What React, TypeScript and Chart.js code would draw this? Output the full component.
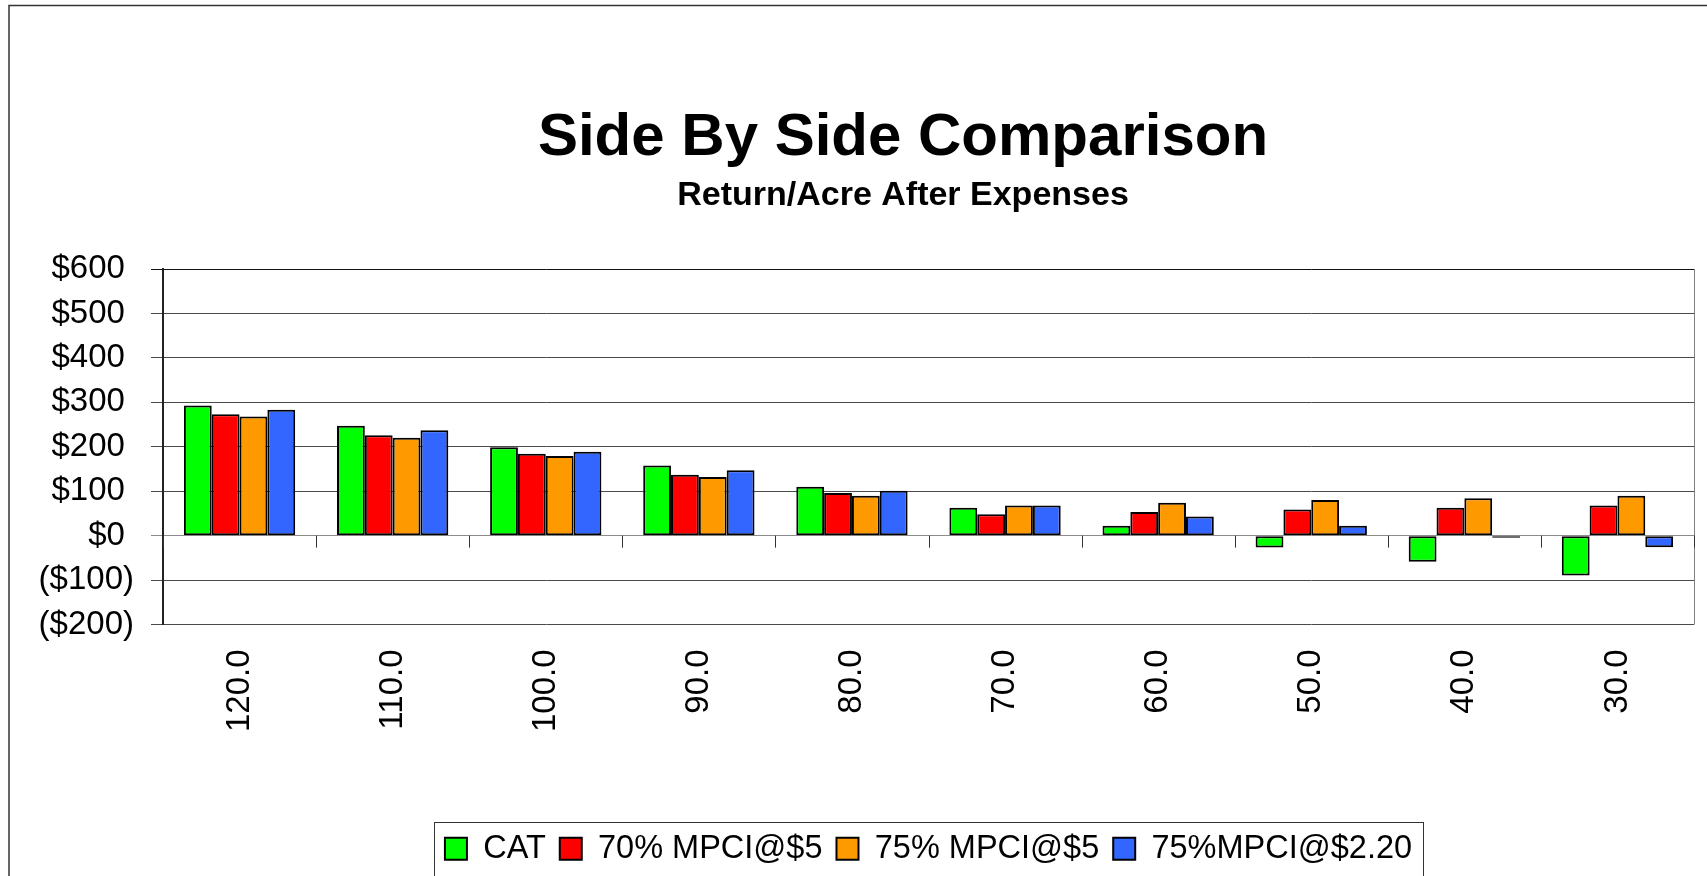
import { useEffect, useRef } from "react";
import { Chart, registerables } from "chart.js";

Chart.register(...registerables);

// ---- data ----
const categories = ["120.0", "110.0", "100.0", "90.0", "80.0", "70.0", "60.0", "50.0", "40.0", "30.0"];
const seriesNames = ["CAT", "70% MPCI@$5", "75% MPCI@$5", "75%MPCI@$2.20"];
const catValues = [293, 247, 199, 158, 110, 63, 22, -27, -59, -90];
const mpci70At5 = [273, 226, 184, 137, 96, 48, 53, 59, 63, 68];
const mpci75At5 = [268, 220, 179, 132, 90, 68, 74, 80, 84, 90];
const mpci75At220 = [283, 237, 189, 147, 101, 68, 43, 22, -5, -26];
const yMin = -200;
const yMax = 600;
const yStep = 100;
const seriesColors = ["#00FF00", "#FF0000", "#FF9900", "#3366FF"];
const titleText = "Side By Side Comparison";
const subtitleText = "Return/Acre After Expenses";

const FONT = "'Liberation Sans', Arial, Helvetica, sans-serif";

const fmtMoney = (v: number) => (v < 0 ? `($${Math.abs(v)})` : `$${v} `);

// Excel centres its titles over the plot plus part of the value-axis label band
const titleCentering = {
  id: "titleCentering",
  afterLayout(chart: any) {
    const yScale = chart.scales.y;
    for (const box of chart.boxes) {
      if (box && box.options && (box.options.text === titleText || box.options.text === subtitleText)) {
        box.left = yScale.left + 112;
      }
    }
  },
};

const framePlugin = {
  id: "excelFrames",
  afterDraw(chart: any) {
    const { ctx, chartArea: a, scales } = chart;
    const x = scales.x;
    const y = scales.y;
    ctx.save();
    // right border of plot area
    ctx.strokeStyle = "#808080";
    ctx.lineWidth = 1;
    const rx = Math.round(a.right) + 0.5;
    ctx.beginPath();
    ctx.moveTo(rx, a.top);
    ctx.lineTo(rx, a.bottom);
    ctx.stroke();

    // category tick marks hanging below the $0 axis line
    const y0 = y.getPixelForValue(0);
    const n = chart.data.labels.length;
    ctx.strokeStyle = "#333";
    ctx.lineWidth = 1;
    for (let i = 0; i <= n; i++) {
      let px: number;
      if (i === 0) px = a.left;
      else if (i === n) px = a.right;
      else px = (x.getPixelForValue(i - 1) + x.getPixelForValue(i)) / 2;
      px = Math.round(px) + 0.5;
      ctx.beginPath();
      ctx.moveTo(px, y0);
      ctx.lineTo(px, y0 + 12);
      ctx.stroke();
    }

    // outer chart-area border (top & left visible)
    ctx.strokeStyle = "#333";
    ctx.lineWidth = 1.5;
    ctx.beginPath();
    ctx.moveTo(9, chart.height + 10);
    ctx.lineTo(9, 5.5);
    ctx.lineTo(chart.width + 10, 5.5);
    ctx.stroke();

    // legend frame
    const lg = chart.legend;
    if (lg && lg.legendHitBoxes && lg.legendHitBoxes.length) {
      const hb = lg.legendHitBoxes;
      const l = Math.min(...hb.map((b: any) => b.left)) - 11;
      const r = Math.max(...hb.map((b: any) => b.left + b.width)) + 11;
      const t = lg.top + 3.5;
      ctx.strokeStyle = "#333";
      ctx.lineWidth = 1;
      ctx.strokeRect(Math.round(l) + 0.5, Math.round(t) + 0.5, Math.round(r - l), chart.height);
    }
    ctx.restore();
  },
};

export default function App() {
  const canvasRef = useRef<HTMLCanvasElement | null>(null);

  useEffect(() => {
    if (!canvasRef.current) return;
    Chart.defaults.font.family = FONT;
    const seriesData = [catValues, mpci70At5, mpci75At5, mpci75At220];
    const chart = new Chart(canvasRef.current, {
      type: "bar",
      data: {
        labels: categories,
        datasets: seriesNames.map((name, i) => ({
          label: name,
          data: seriesData[i],
          backgroundColor: seriesColors[i],
          borderColor: "#000",
          borderWidth: 2,
          borderSkipped: false,
          categoryPercentage: 0.727,
          barPercentage: 1,
        })),
      },
      options: {
        responsive: false,
        animation: false,
        devicePixelRatio: 1,
        layout: { padding: { left: 0, right: 13, top: 0, bottom: 1 } },
        plugins: {
          tooltip: { enabled: false },
          title: {
            display: true,
            fullSize: false,
            text: titleText,
            color: "#000",
            font: { family: FONT, size: 60, weight: "bold" },
            padding: { top: 102, bottom: 1.6 },
          },
          subtitle: {
            display: true,
            fullSize: false,
            text: subtitleText,
            color: "#000",
            font: { family: FONT, size: 34, weight: "bold" },
            padding: { top: 0, bottom: 52.6 },
          },
          legend: {
            display: true,
            position: "bottom",
            fullSize: false,
            labels: {
              color: "#000",
              font: { family: FONT, size: 32.5 },
              boxWidth: 22,
              boxHeight: 22,
              padding: 14,
            },
          },
        },
        scales: {
          x: {
            type: "category",
            offset: true,
            grid: { display: false, drawTicks: false },
            border: { display: false },
            ticks: {
              color: "#000",
              font: { family: FONT, size: 33 },
              minRotation: 90,
              maxRotation: 90,
              autoSkip: false,
              padding: 25,
            },
            afterFit: (scale: any) => {
              scale.height = 194;
            },
          },
          y: {
            min: yMin,
            max: yMax,
            ticks: {
              stepSize: yStep,
              color: "#000",
              font: { family: FONT, size: 33 },
              padding: 17,
              callback: (v: any) => fmtMoney(Number(v)),
            },
            grid: {
              color: (c: any) =>
                c.tick && c.tick.value === 0 ? "#8c8c8c" : c.tick && c.tick.value === yMax ? "#111" : "#4a4a4a",
              lineWidth: 1,
              tickLength: 12,
              drawTicks: true,
            },
            border: { display: true, color: "#222", width: 2 },
            afterFit: (scale: any) => {
              scale.width = 163;
            },
          },
        },
      },
      plugins: [titleCentering, framePlugin],
    } as any);
    return () => chart.destroy();
  }, []);

  return (
    <div
      style={{
        position: "fixed",
        left: 0,
        top: 0,
        width: 1707,
        height: 876,
        overflow: "hidden",
        background: "#fff",
      }}
    >
      <canvas
        ref={canvasRef}
        width={1707}
        height={876}
        style={{ display: "block", width: 1707, height: 876 }}
      />
    </div>
  );
}
